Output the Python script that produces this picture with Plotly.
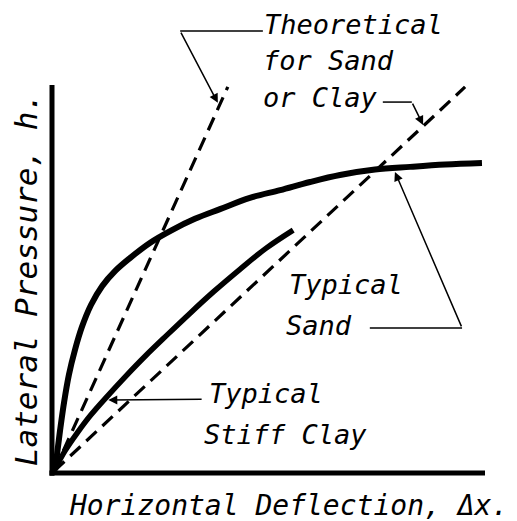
import plotly.graph_objects as go

# ---- data (arbitrary units: deflection 0..10, pressure 0..10) ----
sand_x = [0.07, 0.12, 0.19, 0.28, 0.39, 0.53, 0.69, 0.90, 1.16, 1.46, 1.80, 2.26, 2.77,
          3.30, 3.88, 4.57, 5.27, 5.96, 6.65, 7.46, 8.27, 9.08, 9.93]
sand_y = [0.08, 0.52, 1.13, 1.83, 2.53, 3.17, 3.76, 4.33, 4.82, 5.21, 5.54, 5.93, 6.26,
          6.55, 6.80, 7.09, 7.29, 7.50, 7.68, 7.82, 7.89, 7.95, 7.99]

clay_x = [0.07, 0.30, 0.58, 0.90, 1.27, 1.69, 2.15, 2.66, 3.19, 3.74, 4.34, 4.94, 5.57]
clay_y = [0.10, 0.57, 1.03, 1.50, 1.97, 2.48, 3.01, 3.56, 4.12, 4.68, 5.25, 5.79, 6.26]

theory_sand_x = [0.05, 4.06]
theory_sand_y = [0.05, 9.95]
theory_clay_x = [0.05, 9.54]
theory_clay_y = [0.05, 9.95]

axis_x = [0.0, 10.0]
axis_y = [0.0, 10.0]

FONT = "DejaVu Sans Mono"
INK = "black"

fig = go.Figure()

# axes
fig.add_trace(go.Scatter(x=[-0.06, axis_x[1]], y=[0, 0], mode="lines",
                         line=dict(color=INK, width=5), hoverinfo="skip"))
fig.add_trace(go.Scatter(x=[0, 0], y=[-0.07, axis_y[1]], mode="lines",
                         line=dict(color=INK, width=5), hoverinfo="skip"))

# theoretical dashed lines
for xs, ys in [(theory_sand_x, theory_sand_y), (theory_clay_x, theory_clay_y)]:
    fig.add_trace(go.Scatter(x=xs, y=ys, mode="lines",
                             line=dict(color=INK, width=3.2, dash="14px,8px"),
                             hoverinfo="skip"))

# typical curves
fig.add_trace(go.Scatter(x=sand_x, y=sand_y, mode="lines",
                         line=dict(color=INK, width=6, shape="spline", smoothing=1.0),
                         hoverinfo="skip"))
fig.add_trace(go.Scatter(x=clay_x, y=clay_y, mode="lines",
                         line=dict(color=INK, width=5.5, shape="spline", smoothing=1.0),
                         hoverinfo="skip"))

# leader horizontal segments
leaders = [
    ([2.96, 4.87], [11.39, 11.39]),   # Theoretical
    ([7.64, 8.31], [9.56, 9.56]),     # or Clay
    ([7.34, 9.47], [3.74, 3.74]),     # Sand
]
for lx, ly in leaders:
    fig.add_trace(go.Scatter(x=lx, y=ly, mode="lines",
                             line=dict(color=INK, width=1.5), hoverinfo="skip"))

annotations = []
# arrows: (head_x, head_y, tail_x, tail_y)
arrows = [
    (3.83, 9.54, 2.96, 11.39),
    (8.57, 8.97, 8.31, 9.56),
    (7.92, 7.76, 9.47, 3.74),
    (1.30, 1.88, 3.49, 1.90),
]
for hx, hy, tx, ty in arrows:
    annotations.append(dict(x=hx, y=hy, ax=tx, ay=ty, xref="x", yref="y",
                            axref="x", ayref="y", text="", showarrow=True,
                            arrowhead=2, arrowsize=1.2, arrowwidth=1.5,
                            arrowcolor=INK, standoff=0, startstandoff=0))

labels = [
    ("Theoretical", 4.86, 11.55),
    ("for Sand", 4.82, 10.64),
    ("or Clay", 4.82, 9.69),
    ("Typical", 5.42, 4.87),
    ("Sand", 5.36, 3.79),
    ("Typical", 3.58, 2.04),
    ("Stiff Clay", 3.46, 0.98),
]
for txt, x, y in labels:
    annotations.append(dict(x=x, y=y, xref="x", yref="y", text=txt, showarrow=False,
                            xanchor="left", yanchor="middle",
                            font=dict(family=FONT, size=27, color=INK, style="italic")))

# axis titles
annotations.append(dict(x=0.35, y=-0.85, xref="x", yref="y",
                        text="Horizontal Deflection, Δx.", showarrow=False,
                        xanchor="left", yanchor="middle",
                        font=dict(family=FONT, size=28, color=INK, style="italic")))
annotations.append(dict(x=-0.60, y=4.97, xref="x", yref="y",
                        text="Lateral Pressure, h.", showarrow=False, textangle=-90,
                        xanchor="center", yanchor="middle",
                        font=dict(family=FONT, size=31, color=INK, style="italic")))

fig.update_layout(
    width=517, height=521,
    margin=dict(l=0, r=0, t=0, b=0),
    paper_bgcolor="white", plot_bgcolor="white",
    showlegend=False,
    xaxis=dict(range=[-52 / 43.3, (517 - 52) / 43.3], visible=False, fixedrange=True),
    yaxis=dict(range=[(473 - 521) / 38.8, 473 / 38.8], visible=False, fixedrange=True),
    annotations=annotations,
)

fig.write_html("out.html", config={"displayModeBar": False},
               post_script="document.body.style.margin='0px';")
